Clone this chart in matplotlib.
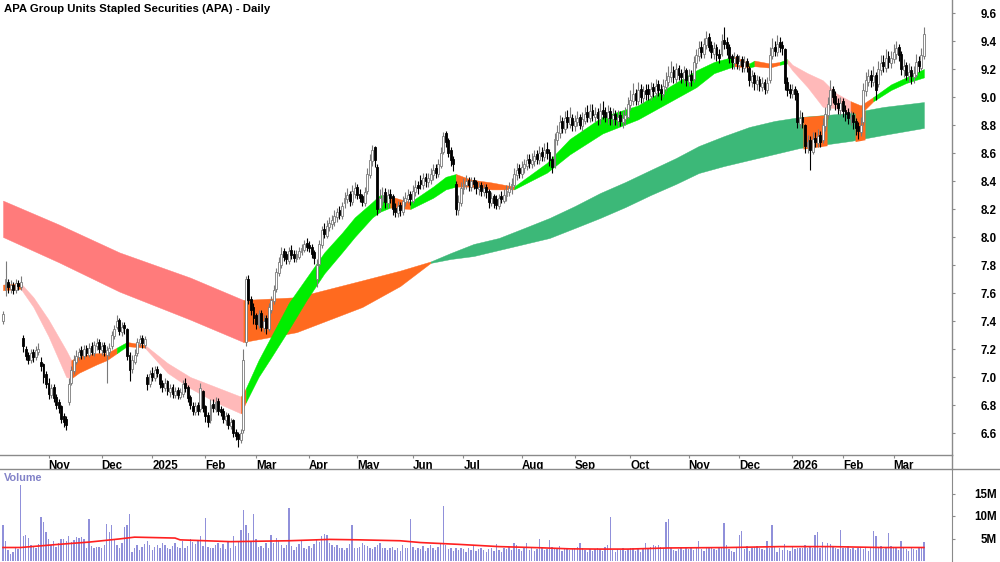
import numpy as np
import pandas as pd
import matplotlib
matplotlib.use("Agg")
import matplotlib.pyplot as plt
from matplotlib.lines import Line2D

plt.rcParams['font.family'] = ['Liberation Sans', 'DejaVu Sans']

title = "APA Group Units Stapled Securities (APA) - Daily"
start_date = "2024-10-08"
asx_holidays = ["2024-12-25", "2024-12-26", "2025-01-01", "2025-01-27", "2025-04-18",
                "2025-04-21", "2025-04-25", "2025-06-09", "2025-12-25", "2025-12-26",
                "2026-01-01", "2026-01-26"]

opens = [
 7.40, 7.62, 7.68, 7.63, 7.66, 7.62, 7.67, 7.64, 7.28, 7.20,
 7.16, 7.12, 7.18, 7.14, 7.18, 7.11, 7.09, 7.02, 6.96,
 6.87, 6.93, 6.86, 6.82, 6.79, 6.72, 6.70, 6.82, 6.96, 7.04,
 7.11, 7.14, 7.19, 7.15, 7.21, 7.16, 7.22, 7.17, 7.22, 7.25,
 7.19, 7.23, 7.16, 7.18, 7.22, 7.29, 7.36, 7.41, 7.32,
 7.37, 7.34, 7.16, 7.06, 7.11, 7.17, 7.24, 7.28, 7.23, 7.00,
 6.95, 7.03, 6.99, 7.06, 7.02, 6.96, 6.92, 6.97, 6.89, 6.93,
 6.87, 6.91, 6.86, 6.88, 6.96, 6.93, 6.86, 6.79, 6.75,
 6.80, 6.77, 6.90, 6.79, 6.73, 6.69, 6.81, 6.77, 6.83, 6.77,
 6.76, 6.69, 6.73, 6.65, 6.69, 6.61, 6.59, 6.55, 6.62, 7.25,
 7.70, 7.56, 7.50, 7.44, 7.37, 7.46, 7.35, 7.42, 7.34,
 7.48, 7.54, 7.63, 7.74, 7.80, 7.90, 7.88, 7.83, 7.91, 7.88,
 7.84, 7.86, 7.89, 7.91, 7.96, 7.94, 7.93, 7.89, 7.70, 7.81,
 7.94, 8.06, 8.01, 8.07, 8.09, 8.11, 8.14, 8.19, 8.15,
 8.24, 8.27, 8.31, 8.25, 8.31, 8.36, 8.31, 8.29, 8.24, 8.33,
 8.44, 8.54, 8.64, 8.50, 8.21, 8.26, 8.32, 8.24, 8.31, 8.29,
 8.21, 8.17, 8.23, 8.18, 8.25, 8.27, 8.31, 8.26, 8.32, 8.37,
 8.41, 8.37, 8.43, 8.39, 8.41, 8.44, 8.49, 8.45, 8.51,
 8.61, 8.74, 8.69, 8.62, 8.56, 8.38, 8.19, 8.24, 8.34, 8.37,
 8.41, 8.36, 8.41, 8.39, 8.34, 8.37, 8.32, 8.36, 8.33, 8.24,
 8.29, 8.27, 8.22, 8.29, 8.26, 8.29, 8.32, 8.34, 8.37,
 8.44, 8.49, 8.45, 8.49, 8.51, 8.56, 8.52, 8.54, 8.59, 8.55,
 8.61, 8.57, 8.63, 8.61, 8.56, 8.51, 8.69, 8.74, 8.83, 8.77,
 8.86, 8.81, 8.85, 8.79, 8.82, 8.86, 8.79, 8.83, 8.89,
 8.85, 8.91, 8.86, 8.89, 8.84, 8.91, 8.89, 8.85, 8.90, 8.84,
 8.88, 8.83, 8.87, 8.82, 8.84, 8.86, 8.94, 8.97, 9.03, 8.97,
 9.06, 8.99, 9.05, 9.06, 9.01, 9.07, 9.03, 9.09, 9.06,
 9.02, 9.07, 9.11, 9.14, 9.19, 9.13, 9.21, 9.17, 9.13, 9.19,
 9.11, 9.16, 9.13, 9.24, 9.29, 9.36, 9.31, 9.37, 9.43, 9.37,
 9.31, 9.36, 9.31, 9.31, 9.41, 9.39, 9.36, 9.29, 9.24,
 9.29, 9.23, 9.27, 9.21, 9.26, 9.21, 9.11, 9.16, 9.09, 9.13,
 9.07, 9.11, 9.05, 9.12, 9.29, 9.36, 9.32, 9.39, 9.37, 9.34,
 9.11, 9.06, 9.02, 9.06, 9.03, 8.81, 8.86, 8.80, 8.64,
 8.69, 8.61, 8.71, 8.67, 8.73, 8.69, 8.79, 8.87, 8.94, 9.06,
 9.01, 8.96, 8.91, 8.97, 8.91, 8.89, 8.84, 8.87, 8.83, 8.79,
 8.75, 8.82, 9.04, 9.11, 9.16, 9.11, 9.16, 9.09, 9.19,
 9.25, 9.21, 9.29, 9.24, 9.27, 9.31, 9.36, 9.31, 9.19, 9.23,
 9.15, 9.19, 9.14, 9.16, 9.26, 9.21, 9.29]

highs = [
 7.47, 7.83, 7.70, 7.69, 7.68, 7.70, 7.69, 7.72, 7.30, 7.22,
 7.18, 7.20, 7.20, 7.22, 7.24, 7.14, 7.10, 7.04, 6.99,
 6.95, 6.95, 6.88, 6.84, 6.80, 6.74, 6.72, 6.99, 7.08, 7.16,
 7.19, 7.21, 7.22, 7.23, 7.23, 7.24, 7.25, 7.26, 7.28, 7.27,
 7.25, 7.25, 7.22, 7.24, 7.33, 7.37, 7.44, 7.42, 7.39,
 7.39, 7.35, 7.18, 7.16, 7.20, 7.28, 7.30, 7.30, 7.29, 7.02,
 7.05, 7.07, 7.08, 7.08, 7.03, 6.98, 6.99, 6.98, 6.95, 6.95,
 6.93, 6.93, 6.92, 6.98, 6.99, 6.94, 6.87, 6.82, 6.82,
 6.82, 6.96, 6.91, 6.80, 6.75, 6.84, 6.84, 6.86, 6.85, 6.79,
 6.78, 6.75, 6.74, 6.71, 6.70, 6.63, 6.61, 6.63, 7.20, 7.72,
 7.73, 7.58, 7.53, 7.46, 7.48, 7.48, 7.44, 7.44, 7.53,
 7.58, 7.66, 7.78, 7.86, 7.93, 7.92, 7.90, 7.93, 7.94, 7.91,
 7.91, 7.93, 7.95, 7.98, 7.99, 7.97, 7.95, 7.91, 7.84, 7.98,
 8.08, 8.10, 8.12, 8.14, 8.16, 8.19, 8.21, 8.22, 8.25,
 8.32, 8.35, 8.33, 8.37, 8.39, 8.38, 8.34, 8.31, 8.36, 8.49,
 8.59, 8.66, 8.65, 8.52, 8.34, 8.36, 8.35, 8.34, 8.34, 8.31,
 8.24, 8.26, 8.25, 8.29, 8.32, 8.34, 8.33, 8.37, 8.41, 8.40,
 8.44, 8.46, 8.46, 8.46, 8.49, 8.52, 8.52, 8.56, 8.64,
 8.75, 8.76, 8.71, 8.64, 8.58, 8.40, 8.30, 8.39, 8.42, 8.44,
 8.43, 8.43, 8.43, 8.41, 8.39, 8.39, 8.38, 8.38, 8.34, 8.32,
 8.31, 8.30, 8.31, 8.33, 8.34, 8.37, 8.39, 8.42, 8.49,
 8.53, 8.52, 8.54, 8.56, 8.59, 8.59, 8.60, 8.62, 8.62, 8.65,
 8.64, 8.67, 8.68, 8.63, 8.58, 8.74, 8.80, 8.87, 8.86, 8.90,
 8.91, 8.93, 8.88, 8.87, 8.90, 8.88, 8.89, 8.93, 8.94,
 8.95, 8.95, 8.93, 8.92, 8.96, 8.97, 8.93, 8.94, 8.93, 8.92,
 8.91, 8.91, 8.90, 8.90, 8.93, 9.00, 9.05, 9.10, 9.06, 9.11,
 9.09, 9.08, 9.09, 9.09, 9.11, 9.10, 9.13, 9.12, 9.09,
 9.13, 9.18, 9.22, 9.26, 9.22, 9.24, 9.23, 9.20, 9.22, 9.21,
 9.20, 9.19, 9.29, 9.34, 9.40, 9.40, 9.42, 9.47, 9.46, 9.40,
 9.39, 9.38, 9.34, 9.45, 9.50, 9.43, 9.38, 9.31, 9.32,
 9.31, 9.30, 9.29, 9.29, 9.28, 9.22, 9.19, 9.18, 9.16, 9.15,
 9.14, 9.13, 9.14, 9.36, 9.42, 9.40, 9.44, 9.43, 9.40, 9.35,
 9.14, 9.09, 9.09, 9.08, 9.05, 8.91, 8.89, 8.81, 8.73,
 8.72, 8.75, 8.75, 8.77, 8.76, 8.85, 8.93, 9.00, 9.12, 9.08,
 9.04, 8.99, 9.00, 8.99, 8.94, 8.92, 8.90, 8.89, 8.85, 8.82,
 8.86, 9.10, 9.18, 9.20, 9.19, 9.22, 9.18, 9.26, 9.30,
 9.30, 9.34, 9.33, 9.33, 9.38, 9.40, 9.38, 9.33, 9.27, 9.25,
 9.24, 9.22, 9.22, 9.31, 9.29, 9.35, 9.50]

lows = [
 7.38, 7.58, 7.60, 7.60, 7.59, 7.60, 7.62, 7.62, 7.18, 7.12,
 7.09, 7.10, 7.11, 7.12, 7.16, 7.04, 6.96, 6.92, 6.84,
 6.85, 6.82, 6.77, 6.74, 6.67, 6.64, 6.62, 6.80, 6.94, 7.02,
 7.09, 7.12, 7.13, 7.13, 7.15, 7.14, 7.16, 7.15, 7.19, 7.17,
 7.16, 7.15, 6.96, 7.15, 7.20, 7.27, 7.34, 7.30, 7.29,
 7.31, 7.12, 6.97, 7.03, 7.09, 7.15, 7.22, 7.21, 7.21, 6.91,
 6.93, 6.97, 6.97, 7.00, 6.92, 6.89, 6.90, 6.87, 6.86, 6.85,
 6.85, 6.84, 6.84, 6.86, 6.89, 6.82, 6.77, 6.73, 6.73,
 6.73, 6.75, 6.75, 6.68, 6.64, 6.67, 6.75, 6.75, 6.73, 6.72,
 6.67, 6.66, 6.63, 6.63, 6.57, 6.55, 6.50, 6.53, 6.60, 7.22,
 7.52, 7.44, 7.38, 7.34, 7.35, 7.33, 7.32, 7.31, 7.33,
 7.46, 7.52, 7.61, 7.72, 7.78, 7.83, 7.81, 7.81, 7.84, 7.82,
 7.82, 7.84, 7.87, 7.89, 7.90, 7.89, 7.85, 7.81, 7.64, 7.79,
 7.92, 7.99, 7.99, 8.04, 8.06, 8.08, 8.11, 8.13, 8.13,
 8.21, 8.24, 8.22, 8.23, 8.28, 8.27, 8.25, 8.22, 8.22, 8.31,
 8.42, 8.51, 8.50, 8.16, 8.18, 8.23, 8.21, 8.21, 8.24, 8.16,
 8.14, 8.14, 8.15, 8.16, 8.22, 8.24, 8.23, 8.24, 8.29, 8.31,
 8.34, 8.34, 8.36, 8.36, 8.38, 8.41, 8.42, 8.43, 8.49,
 8.59, 8.64, 8.57, 8.51, 8.47, 8.16, 8.16, 8.22, 8.31, 8.34,
 8.33, 8.33, 8.34, 8.31, 8.30, 8.29, 8.29, 8.28, 8.21, 8.22,
 8.21, 8.20, 8.20, 8.24, 8.24, 8.26, 8.29, 8.31, 8.35,
 8.41, 8.42, 8.42, 8.46, 8.48, 8.49, 8.49, 8.51, 8.52, 8.52,
 8.54, 8.54, 8.56, 8.51, 8.46, 8.49, 8.66, 8.71, 8.74, 8.74,
 8.78, 8.78, 8.76, 8.76, 8.79, 8.77, 8.76, 8.81, 8.82,
 8.82, 8.83, 8.82, 8.80, 8.81, 8.84, 8.82, 8.81, 8.80, 8.80,
 8.80, 8.79, 8.79, 8.78, 8.80, 8.84, 8.91, 8.94, 8.94, 8.94,
 8.96, 8.96, 8.98, 8.98, 8.98, 9.00, 9.00, 9.01, 8.98,
 9.00, 9.04, 9.08, 9.11, 9.10, 9.10, 9.12, 9.10, 9.10, 9.08,
 9.08, 9.08, 9.11, 9.21, 9.26, 9.28, 9.28, 9.34, 9.33, 9.28,
 9.27, 9.26, 9.24, 9.29, 9.34, 9.30, 9.24, 9.20, 9.20,
 9.20, 9.19, 9.18, 9.18, 9.18, 9.08, 9.07, 9.05, 9.05, 9.04,
 9.04, 9.02, 9.03, 9.10, 9.27, 9.29, 9.29, 9.32, 9.30, 9.05,
 9.01, 8.99, 8.99, 8.98, 8.78, 8.78, 8.78, 8.60, 8.60,
 8.48, 8.59, 8.64, 8.64, 8.64, 8.67, 8.76, 8.84, 8.91, 8.96,
 8.91, 8.88, 8.87, 8.86, 8.83, 8.81, 8.80, 8.77, 8.73, 8.70,
 8.72, 8.80, 9.01, 9.08, 9.07, 9.08, 8.98, 9.07, 9.16,
 9.18, 9.18, 9.21, 9.21, 9.24, 9.27, 9.26, 9.16, 9.14, 9.12,
 9.11, 9.09, 9.10, 9.14, 9.18, 9.19, 9.27]

closes = [
 7.45, 7.70, 7.64, 7.66, 7.62, 7.67, 7.65, 7.68, 7.22, 7.15,
 7.12, 7.17, 7.14, 7.19, 7.20, 7.08, 7.00, 6.95, 6.88,
 6.92, 6.85, 6.80, 6.78, 6.70, 6.68, 6.66, 6.95, 7.05, 7.12,
 7.15, 7.18, 7.16, 7.20, 7.17, 7.21, 7.18, 7.23, 7.24, 7.20,
 7.22, 7.18, 7.19, 7.21, 7.30, 7.34, 7.40, 7.33, 7.36,
 7.35, 7.15, 7.05, 7.12, 7.16, 7.25, 7.27, 7.24, 7.27, 6.95,
 7.02, 7.00, 7.05, 7.03, 6.95, 6.93, 6.96, 6.90, 6.92, 6.88,
 6.90, 6.87, 6.89, 6.95, 6.92, 6.85, 6.80, 6.76, 6.79,
 6.76, 6.92, 6.78, 6.72, 6.68, 6.80, 6.78, 6.82, 6.76, 6.75,
 6.70, 6.72, 6.66, 6.68, 6.60, 6.58, 6.56, 6.60, 7.12, 7.70,
 7.55, 7.48, 7.42, 7.38, 7.45, 7.36, 7.40, 7.35, 7.50,
 7.55, 7.62, 7.75, 7.82, 7.88, 7.86, 7.84, 7.90, 7.87, 7.85,
 7.88, 7.90, 7.92, 7.95, 7.93, 7.92, 7.88, 7.85, 7.80, 7.95,
 8.05, 8.02, 8.08, 8.10, 8.12, 8.15, 8.18, 8.16, 8.22,
 8.28, 8.30, 8.26, 8.33, 8.35, 8.30, 8.28, 8.25, 8.32, 8.45,
 8.55, 8.62, 8.55, 8.20, 8.28, 8.30, 8.25, 8.30, 8.28, 8.20,
 8.18, 8.22, 8.19, 8.26, 8.28, 8.30, 8.27, 8.33, 8.36, 8.35,
 8.38, 8.42, 8.40, 8.42, 8.45, 8.48, 8.46, 8.52, 8.60,
 8.72, 8.68, 8.60, 8.55, 8.52, 8.20, 8.25, 8.35, 8.38, 8.40,
 8.37, 8.40, 8.38, 8.35, 8.36, 8.33, 8.35, 8.32, 8.25, 8.28,
 8.24, 8.23, 8.28, 8.27, 8.30, 8.33, 8.35, 8.38, 8.45,
 8.48, 8.46, 8.50, 8.52, 8.55, 8.53, 8.55, 8.58, 8.56, 8.60,
 8.58, 8.62, 8.60, 8.55, 8.50, 8.70, 8.75, 8.82, 8.78, 8.85,
 8.82, 8.86, 8.80, 8.83, 8.85, 8.80, 8.84, 8.88, 8.86,
 8.90, 8.87, 8.88, 8.85, 8.90, 8.88, 8.86, 8.89, 8.85, 8.87,
 8.84, 8.86, 8.83, 8.85, 8.87, 8.95, 8.98, 9.02, 8.98, 9.05,
 9.00, 9.04, 9.02, 9.02, 9.06, 9.04, 9.08, 9.05, 9.03,
 9.08, 9.12, 9.15, 9.18, 9.14, 9.20, 9.16, 9.14, 9.18, 9.12,
 9.15, 9.12, 9.25, 9.30, 9.35, 9.32, 9.38, 9.42, 9.36, 9.32,
 9.35, 9.30, 9.28, 9.40, 9.38, 9.35, 9.28, 9.25, 9.28,
 9.24, 9.26, 9.22, 9.25, 9.22, 9.12, 9.15, 9.10, 9.12, 9.08,
 9.10, 9.06, 9.10, 9.30, 9.35, 9.33, 9.38, 9.36, 9.35, 9.10,
 9.05, 9.03, 9.05, 9.02, 8.82, 8.85, 8.82, 8.65, 8.68,
 8.62, 8.70, 8.68, 8.72, 8.68, 8.80, 8.88, 8.95, 9.05, 9.00,
 8.95, 8.92, 8.96, 8.90, 8.88, 8.85, 8.86, 8.82, 8.78, 8.76,
 8.80, 9.05, 9.12, 9.15, 9.12, 9.15, 9.05, 9.20, 9.24,
 9.22, 9.28, 9.25, 9.28, 9.32, 9.35, 9.30, 9.20, 9.22, 9.16,
 9.18, 9.15, 9.17, 9.25, 9.22, 9.30, 9.45]

volume_m = [
 8.0, 4.5, 2.5, 1.5, 2.0, 2.8, 2.6, 16.9, 5.5, 5.8,
 5.2, 3.5, 3.2, 3.0, 3.8, 9.8, 8.6, 6.5, 4.8,
 3.5, 4.5, 3.2, 4.0, 4.8, 5.0, 4.5, 5.6, 4.2, 4.6,
 5.4, 5.2, 5.3, 5.0, 3.0, 9.3, 3.4, 3.0, 3.2, 3.1,
 3.0, 3.5, 8.2, 6.5, 8.0, 5.0, 3.5, 3.0, 4.0,
 7.5, 8.0, 10.5, 2.0, 3.0, 3.5, 2.5, 3.2, 3.8, 4.5,
 3.5, 2.5, 3.2, 3.5, 2.8, 4.0, 3.6, 3.0, 2.6, 3.4,
 4.0, 3.2, 2.8, 4.5, 3.0, 3.4, 4.8, 4.2, 3.8,
 4.5, 5.6, 3.4, 9.5, 3.2, 2.8, 3.0, 3.6, 4.0, 3.0,
 3.8, 2.6, 4.5, 3.0, 5.6, 3.4, 4.4, 7.0, 11.4, 8.0,
 6.2, 4.2, 10.4, 5.0, 3.2, 3.4, 2.8, 4.0, 3.0,
 5.8, 4.0, 5.2, 4.4, 3.5, 2.8, 3.6, 11.7, 3.4, 2.5,
 3.2, 3.8, 4.5, 3.0, 2.6, 3.4, 2.8, 3.8, 5.0, 4.2,
 5.5, 6.0, 5.8, 4.0, 3.5, 3.2, 3.6, 2.8, 3.0,
 2.5, 3.0, 3.8, 8.0, 3.0, 2.8, 3.2, 4.0, 3.6, 3.4,
 3.0, 2.6, 3.2, 3.5, 4.0, 2.8, 3.0, 2.4, 2.8, 3.2,
 2.5, 3.0, 2.2, 3.6, 2.8, 3.0, 9.3, 3.2, 2.4, 2.8,
 2.6, 3.4, 2.2, 2.8, 3.6, 3.0, 2.4, 3.2, 4.0,
 12.2, 3.5, 2.6, 3.0, 2.2, 2.8, 2.4, 3.0, 2.6, 2.0,
 2.8, 2.4, 3.6, 2.2, 2.6, 3.0, 2.4, 2.0, 2.6, 3.0,
 2.2, 3.8, 2.4, 2.0, 2.8, 2.6, 3.2, 2.4, 4.0,
 3.6, 2.6, 2.2, 3.0, 4.0, 2.5, 2.8, 2.2, 2.6, 5.0,
 3.0, 2.4, 2.6, 4.6, 3.2, 2.8, 2.6, 3.4, 2.2, 2.6,
 3.0, 2.4, 2.6, 3.0, 3.2, 4.0, 2.8, 2.4, 2.0,
 2.6, 2.2, 2.6, 3.0, 2.6, 2.2, 3.2, 3.6, 9.8, 2.4,
 2.0, 2.6, 2.4, 3.0, 2.2, 2.6, 3.0, 2.8, 2.2, 2.6,
 2.0, 2.8, 4.0, 2.6, 3.2, 3.6, 3.4, 3.6, 3.2,
 3.0, 8.6, 9.3, 2.8, 2.4, 2.2, 2.6, 3.0, 2.4, 2.8,
 2.6, 3.0, 2.4, 2.8, 4.5, 2.6, 2.2, 3.0, 2.8, 3.2,
 2.6, 2.4, 3.0, 2.8, 8.4, 3.6, 2.6, 2.2, 2.0,
 2.8, 5.8, 6.6, 2.6, 3.4, 2.2, 2.8, 3.2, 3.4, 3.0,
 2.6, 2.4, 4.4, 3.0, 8.0, 3.2, 2.0, 3.0, 2.4, 3.8,
 2.4, 2.2, 3.4, 2.6, 2.8, 3.0, 2.8, 3.6, 2.8,
 3.2, 3.0, 5.8, 6.4, 3.0, 4.2, 3.4, 4.0, 3.8, 3.2,
 3.0, 2.6, 6.9, 3.0, 2.8, 3.4, 2.6, 3.0, 2.4, 2.8,
 3.2, 2.6, 2.8, 2.2, 3.0, 6.6, 5.6, 2.8, 3.4,
 2.6, 3.0, 6.2, 3.4, 2.8, 3.2, 2.4, 4.4, 3.0, 2.6,
 2.2, 3.0, 2.6, 2.4, 2.8, 3.0, 4.3]

# volume moving average (read at sample bars)
vol_ma_idx = [0, 7, 22, 34, 46, 52, 68, 70, 90, 113, 129, 141, 157, 165,
              180, 196, 212, 224, 236, 247, 263, 287, 307, 327, 347, 364]
vol_ma_val = [3.0, 3.0, 3.7, 4.2, 4.9, 5.3, 5.1, 4.7, 4.3, 4.5, 4.8, 4.7, 4.5, 4.1,
              3.7, 3.2, 2.95, 2.7, 2.65, 2.65, 2.9, 3.0, 3.2, 3.2, 3.0, 3.0]

# short-term averages ribbon (lower / upper edge at sample bars)
short_idx = [0, 7, 12, 18, 25, 27, 30, 37, 41, 45, 49, 56, 65, 74, 84, 94, 96,
             101, 106, 113, 120, 127, 134, 139, 146, 149, 153, 161, 170, 175,
             179, 185, 193, 202, 215, 224, 237, 251, 263, 274, 281, 289, 295,
             297, 303, 307, 310, 312, 318, 324, 329, 335, 339, 344, 351, 357, 364]
short_lo = [7.62, 7.63, 7.50, 7.29, 7.00, 6.99, 7.03, 7.09, 7.12, 7.17, 7.22, 7.21,
            7.03, 6.92, 6.82, 6.74, 6.82, 7.00, 7.14, 7.34, 7.55, 7.74, 7.89, 8.00,
            8.14, 8.18, 8.21, 8.20, 8.28, 8.34, 8.36, 8.36, 8.34, 8.34, 8.46, 8.59,
            8.74, 8.84, 8.96, 9.07, 9.17, 9.22, 9.21, 9.22, 9.21, 9.23, 9.24, 9.19,
            9.07, 8.93, 8.92, 8.89, 8.88, 8.97, 9.05, 9.10, 9.14]
short_hi = [7.66, 7.67, 7.57, 7.41, 7.19, 7.12, 7.15, 7.17, 7.17, 7.21, 7.25, 7.23,
            7.10, 7.00, 6.93, 6.86, 6.92, 7.12, 7.29, 7.53, 7.71, 7.89, 8.03, 8.14,
            8.25, 8.30, 8.29, 8.25, 8.36, 8.43, 8.45, 8.41, 8.39, 8.36, 8.53, 8.70,
            8.86, 8.94, 9.07, 9.19, 9.25, 9.29, 9.24, 9.26, 9.24, 9.25, 9.27, 9.23,
            9.17, 9.12, 9.03, 8.97, 8.94, 9.00, 9.09, 9.14, 9.20]
short_states = [(0, 7, "mixed"), (7, 27, "down"), (27, 45, "mixed"), (45, 49, "up"),
                (49, 56, "mixed"), (56, 94, "down"), (94, 96, "mixed"), (96, 153, "up"),
                (153, 161, "mixed"), (161, 179, "up"), (179, 202, "mixed"),
                (202, 289, "up"), (289, 295, "mixed"), (295, 297, "up"),
                (297, 307, "mixed"), (307, 310, "up"), (310, 335, "down"),
                (335, 344, "mixed"), (344, 364, "up")]

# long-term averages ribbon
long_idx = [0, 22, 46, 74, 95, 116, 142, 157, 169, 177, 186, 196, 206, 216, 226,
            236, 246, 256, 266, 275, 285, 295, 305, 315, 335, 348, 364]
long_lo = [8.00, 7.82, 7.61, 7.41, 7.25, 7.32, 7.50, 7.65, 7.815, 7.843, 7.864, 7.907,
           7.95, 7.993, 8.064, 8.136, 8.214, 8.300, 8.379, 8.457, 8.507, 8.550, 8.593,
           8.636, 8.686, 8.729, 8.779]
long_hi = [8.26, 8.09, 7.89, 7.71, 7.55, 7.57, 7.69, 7.76, 7.825, 7.886, 7.95, 7.993,
           8.064, 8.136, 8.221, 8.314, 8.393, 8.479, 8.564, 8.650, 8.721, 8.786, 8.829,
           8.857, 8.886, 8.929, 8.964]
long_states = [(0, 95, "down"), (95, 169, "mixed"), (169, 364, "up")]
long_mixed_blocks = [(316.2, 325.7), (336.8, 340.7)]

price_ticks = [6.6, 6.8, 7.0, 7.2, 7.4, 7.6, 7.8, 8.0, 8.2, 8.4, 8.6, 8.8, 9.0,
               9.2, 9.4, 9.6]
vol_ticks = [5, 10, 15]
vol_tick_labels = ["5M", "10M", "15M"]

short_colors = {"up": "#00EE00", "down": "#FFB9B9", "mixed": "#FF6A1F"}
long_colors = {"up": "#3CB878", "down": "#FF7B7B", "mixed": "#FF6A1F"}

n = len(closes)
assert len(opens) == n and len(highs) == n and len(lows) == n and len(volume_m) == n, \
    (len(opens), len(highs), len(lows), len(closes), len(volume_m))

dates = pd.bdate_range(start_date, periods=n, freq="C", holidays=asx_holidays)
x = np.arange(n)
o = np.array(opens); h = np.array(highs); l = np.array(lows); c = np.array(closes)

W, H = 1000, 562
PX_PER_BAR = 2.53
fig = plt.figure(figsize=(10, 5.62), dpi=100)
ax = fig.add_axes([0, 107 / H, 952 / W, 455 / H])
axv = fig.add_axes([0, 0, 952 / W, 93 / H])

xlim = ((0 - 3) / PX_PER_BAR, (952 - 3) / PX_PER_BAR)

def draw_ribbon(idx, lo, hi, states, colors):
    idx = np.array(idx); lo = np.array(lo); hi = np.array(hi)
    for a, b, st in states:
        m = (idx >= a) & (idx <= b)
        ax.fill_between(idx[m], lo[m], hi[m], color=colors[st], lw=0.3,
                        edgecolor=colors[st], zorder=1)

draw_ribbon(long_idx, long_lo, long_hi, long_states, long_colors)
for a, b in long_mixed_blocks:
    xs = np.array([a, b])
    ax.fill_between(xs, np.interp(xs, long_idx, long_lo) - 0.01,
                    np.interp(xs, long_idx, long_hi), color=long_colors["mixed"],
                    lw=0, zorder=1.5)
draw_ribbon(short_idx, short_lo, short_hi, short_states, short_colors)

# candles
up = c >= o
body_lo = np.minimum(o, c)
body_h = np.maximum(np.abs(c - o), 0.008)
ax.vlines(x[up], l[up], h[up], color="#7a7a7a", lw=0.8, zorder=3)
ax.vlines(x[~up], l[~up], h[~up], color="black", lw=0.8, zorder=3)
ax.bar(x[up], body_h[up], bottom=body_lo[up], width=0.75, facecolor="white",
       edgecolor="#7a7a7a", lw=0.6, zorder=4)
ax.bar(x[~up], body_h[~up], bottom=body_lo[~up], width=0.75, facecolor="black",
       edgecolor="black", lw=0.6, zorder=4)

ax.set_xlim(*xlim)
ax.set_ylim(9.6 - (455 - 13) / 140, 9.6 + 13 / 140)

for s in ["left", "top"]:
    ax.spines[s].set_visible(False)
for s in ["right", "bottom"]:
    ax.spines[s].set_color("#8a8a8a")
    ax.spines[s].set_linewidth(1.0)

ax.yaxis.tick_right()
ax.set_yticks(price_ticks)
ax.set_yticklabels([f"{v:.1f}" for v in price_ticks])
ax.tick_params(axis="y", direction="out", length=2.5, width=0.8, colors="#8a8a8a",
               labelcolor="black", labelsize=8.3, pad=29.5)
for lbl in ax.get_yticklabels():
    lbl.set_ha("right"); lbl.set_fontweight("bold")

month_pos, month_lab = [], []
for i in range(1, n):
    if dates[i].month != dates[i - 1].month:
        month_pos.append(i)
        month_lab.append(str(dates[i].year) if dates[i].month == 1 else dates[i].strftime("%b"))
ax.set_xticks(month_pos)
ax.set_xticklabels(month_lab)
ax.tick_params(axis="x", direction="out", length=2.5, width=0.8, colors="#8a8a8a",
               labelcolor="black", labelsize=8.3, pad=0.8)
for lbl in ax.get_xticklabels():
    lbl.set_ha("left"); lbl.set_fontweight("bold")

# volume panel
axv.bar(x, volume_m, width=0.55, color="#9090DA", zorder=2)
axv.plot(vol_ma_idx, vol_ma_val, color="#FF2020", lw=1.2, zorder=3)
axv.set_xlim(*xlim)
axv.set_ylim((561 - 562) / 4.5, (561 - 469) / 4.5)
for s in ["left", "top", "bottom"]:
    axv.spines[s].set_visible(False)
axv.spines["right"].set_color("#8a8a8a")
axv.set_xticks([])
axv.yaxis.tick_right()
axv.set_yticks(vol_ticks)
axv.set_yticklabels(vol_tick_labels)
axv.tick_params(axis="y", direction="out", length=2.5, width=0.8, colors="#8a8a8a",
                labelcolor="black", labelsize=8.3, pad=29.5)
for lbl in axv.get_yticklabels():
    lbl.set_ha("right"); lbl.set_fontweight("bold")

fig.add_artist(Line2D([0, 1], [1 - 469 / H, 1 - 469 / H], transform=fig.transFigure,
                      color="#8a8a8a", lw=1.0))
fig.add_artist(Line2D([952 / W, 952 / W], [1 - 469 / H, 1 - 455 / H],
                      transform=fig.transFigure, color="#8a8a8a", lw=1.0))

fig.text(4 / W, 1 - 9 / H, title, fontsize=8.2, fontweight="bold", va="center", ha="left")
fig.text(4 / W, 1 - 478 / H, "Volume", fontsize=7.8, fontweight="bold",
         color="#8282C8", va="center", ha="left")

fig.savefig("out.png", dpi=100, facecolor="white")
